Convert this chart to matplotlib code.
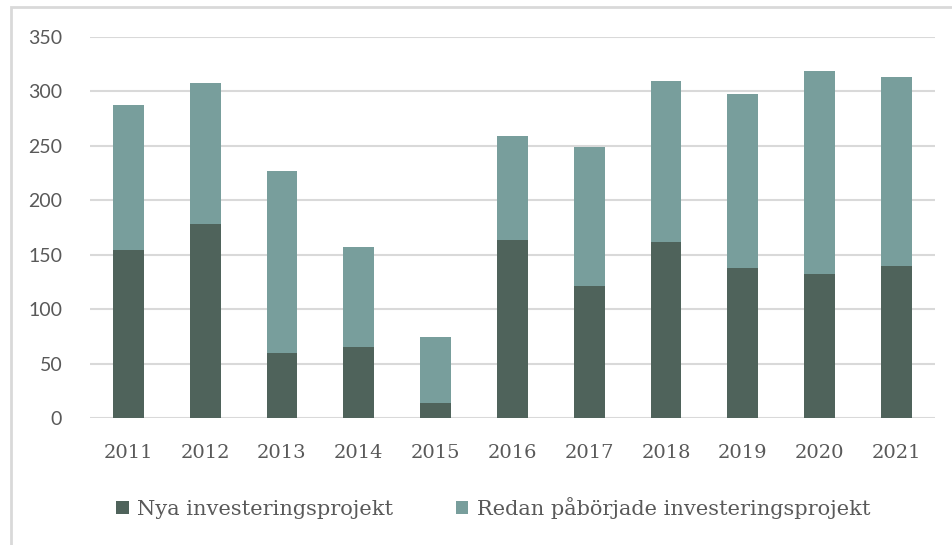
import matplotlib
matplotlib.use("Agg")
import matplotlib.pyplot as plt
from matplotlib.patches import Rectangle

years = ["2011", "2012", "2013", "2014", "2015", "2016", "2017", "2018", "2019", "2020", "2021"]
nya = [154, 178, 60, 65, 14, 164, 121, 162, 138, 132, 140]
redan = [134, 130, 167, 92, 60, 95, 128, 148, 160, 187, 173]
yticks = [0, 50, 100, 150, 200, 250, 300, 350]
labels = ["Nya investeringsprojekt", "Redan påbörjade investeringsprojekt"]

dark = "#4F635B"
light = "#789E9C"
txt = "#595959"

fig = plt.figure(figsize=(9.52, 5.45), dpi=100)
ax = fig.add_axes([0.0945, 0.233, 0.8875, 0.699])
x = list(range(len(years)))
b1 = ax.bar(x, nya, width=0.4, color=dark, label=labels[0], zorder=3)
b2 = ax.bar(x, redan, bottom=nya, width=0.4, color=light, label=labels[1], zorder=3)
ax.set_xlim(-0.5, len(years) - 0.5)
ax.set_ylim(0, 350)
ax.set_yticks(yticks)
ax.set_yticklabels([str(v) for v in yticks], fontfamily="Lato", fontsize=14, color=txt)
ax.set_xticks(x)
ax.set_xticklabels(years, fontfamily="DejaVu Serif", fontsize=14, color=txt)
ax.yaxis.grid(True, color="#D9D9D9", linewidth=1.5, zorder=0)
for s in ax.spines.values():
    s.set_visible(False)
ax.tick_params(axis="y", length=0, pad=20)
ax.tick_params(axis="x", length=0, pad=19)

leg = fig.legend(handles=[b1, b2], labels=labels, loc="center", bbox_to_anchor=(0.518, 0.068),
                 ncol=2, frameon=False, prop={"family": "DejaVu Serif", "size": 15},
                 handlelength=0.6, handleheight=0.6, handletextpad=0.4, columnspacing=3.0)
for t in leg.get_texts():
    t.set_color(txt)

fig.patches.append(Rectangle((11 / 952, -0.1), 1.2, (545 - 7) / 545 + 0.1, transform=fig.transFigure,
                             fill=False, edgecolor="#D9D9D9", linewidth=2, figure=fig))
fig.savefig("out.png", dpi=100)
